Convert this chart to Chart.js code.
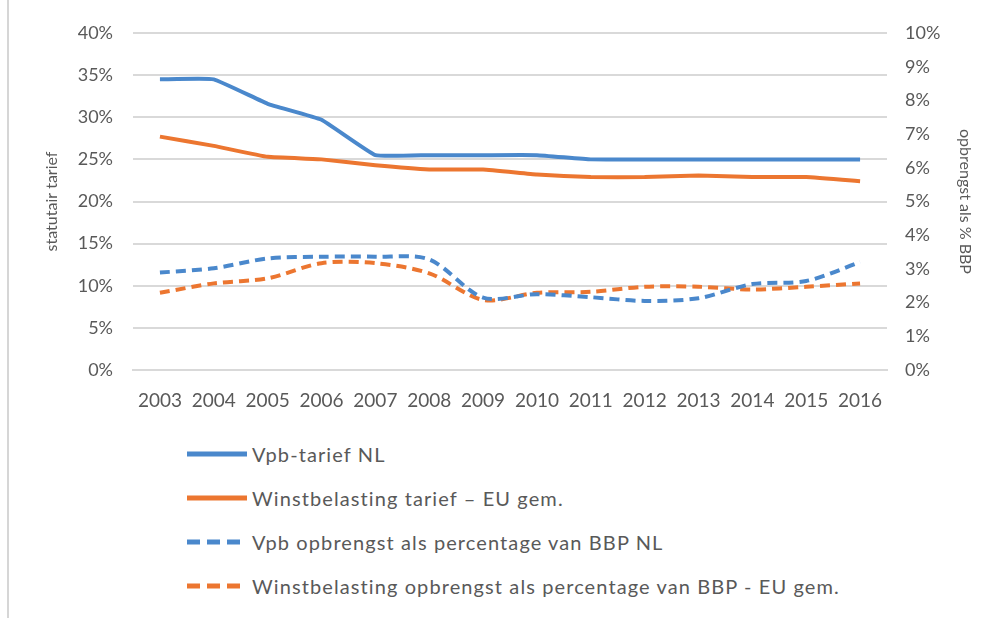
<!DOCTYPE html>
<html>
<head>
<meta charset="utf-8">
<script src="https://cdn.jsdelivr.net/npm/chart.js@4"></script>
<style>
  html, body { margin: 0; padding: 0; background: #fff; }
  #wrap { position: relative; width: 996px; height: 618px; overflow: hidden; }
  #frame { position: absolute; left: 7px; top: 0; width: 2px; height: 618px; background: #d6d6d6; }
  #chartBox { position: absolute; left: 0; top: 0; width: 996px; height: 420px; }
  #legend { position: absolute; left: 185px; top: 432px; font-family: Lato, "Open Sans", sans-serif; font-size: 20px; letter-spacing: 1.1px; color: #595959; }
  .item { display: flex; align-items: center; height: 44px; }
  .item svg { margin-right: 5px; }
</style>
</head>
<body>
<div id="wrap">
  <div id="frame"></div>
  <div id="chartBox"><canvas id="taxChart"></canvas></div>
  <div id="legend"></div>
</div>
<script>
var years = ['2003','2004','2005','2006','2007','2008','2009','2010','2011','2012','2013','2014','2015','2016'];
var vpbTariefNL = [34.5, 34.5, 31.6, 29.7, 25.5, 25.5, 25.5, 25.5, 25, 25, 25, 25, 25, 25];
var winstTariefEU = [27.7, 26.6, 25.3, 25.0, 24.3, 23.8, 23.8, 23.2, 22.9, 22.9, 23.1, 22.9, 22.9, 22.4];
var vpbOpbrengstNL = [2.89, 3.02, 3.31, 3.36, 3.36, 3.28, 2.15, 2.25, 2.16, 2.05, 2.13, 2.55, 2.64, 3.2];
var winstOpbrengstEU = [2.29, 2.57, 2.72, 3.17, 3.17, 2.87, 2.08, 2.29, 2.32, 2.47, 2.47, 2.39, 2.47, 2.57];

var blue = '#4a88cc';
var orange = '#ec7630';
var textGray = '#595959';
var font = 'Lato, "Open Sans", sans-serif';

document.addEventListener('DOMContentLoaded', function() {
    var ctx = document.getElementById('taxChart').getContext('2d');
    var chart = new Chart(ctx, {
        type: 'line',
        data: {
            labels: years,
            datasets: [{
                label: 'Vpb-tarief NL',
                data: vpbTariefNL,
                borderColor: blue,
                borderWidth: 4,
                tension: 0.1,
                yAxisID: 'y'
            },
            {
                label: 'Winstbelasting tarief \u2013 EU gem.',
                data: winstTariefEU,
                borderColor: orange,
                borderWidth: 4,
                tension: 0.1,
                yAxisID: 'y'
            },
            {
                label: 'Vpb opbrengst als percentage van BBP NL',
                data: vpbOpbrengstNL,
                borderColor: blue,
                borderWidth: 4,
                borderDash: [10, 6],
                tension: 0.3,
                yAxisID: 'y1'
            },
            {
                label: 'Winstbelasting opbrengst als percentage van BBP - EU gem.',
                data: winstOpbrengstEU,
                borderColor: orange,
                borderWidth: 4,
                borderDash: [10, 6],
                tension: 0.3,
                yAxisID: 'y1'
            }]
        },
        options: {
            responsive: true,
            maintainAspectRatio: false,
            animation: false,
            layout: { padding: { left: 38, right: 17, top: 33, bottom: 8 } },
            elements: {
                point: { radius: 0 },
                line: { borderCapStyle: 'butt', borderJoinStyle: 'round' }
            },
            plugins: {
                legend: { display: false },
                tooltip: { enabled: false }
            },
            scales: {
                x: {
                    offset: true,
                    grid: { display: false },
                    border: { color: '#d9d9d9', width: 2 },
                    ticks: { color: textGray, font: { family: font, size: 19 }, maxRotation: 0, autoSkip: false, padding: 11 },
                    afterFit: function(s) { s.height = 42; }
                },
                y: {
                    position: 'left',
                    min: 0,
                    max: 40,
                    grid: { color: '#d9d9d9', lineWidth: 2, drawTicks: false },
                    border: { display: false },
                    ticks: {
                        stepSize: 5,
                        color: textGray,
                        font: { family: font, size: 18 },
                        padding: 20,
                        callback: function(v) { return v + '%'; }
                    },
                    title: {
                        display: true,
                        text: 'statutair tarief',
                        color: textGray,
                        font: { family: font, size: 16 }
                    },
                    afterFit: function(s) { s.width = 95; }
                },
                y1: {
                    position: 'right',
                    min: 0,
                    max: 10,
                    grid: { display: false, drawTicks: false },
                    border: { display: false },
                    ticks: {
                        stepSize: 1,
                        color: textGray,
                        font: { family: font, size: 18 },
                        padding: 18,
                        callback: function(v) { return v + '%'; }
                    },
                    title: {
                        display: true,
                        text: 'opbrengst als % BBP',
                        color: textGray,
                        font: { family: font, size: 16 }
                    },
                    afterFit: function(s) { s.width = 92; }
                }
            }
        }
    });

    // legend, one item per row, built from the datasets
    var legend = document.getElementById('legend');
    chart.data.datasets.forEach(function(ds) {
        var row = document.createElement('div');
        row.className = 'item';
        var dash = ds.borderDash ? 'stroke-dasharray="13 7"' : '';
        row.innerHTML = '<svg width="62" height="8"><line x1="2" y1="4" x2="62" y2="4" stroke="' + ds.borderColor +
            '" stroke-width="5" ' + dash + '/></svg><span>' + ds.label + '</span>';
        legend.appendChild(row);
    });
});
</script>
</body>
</html>
